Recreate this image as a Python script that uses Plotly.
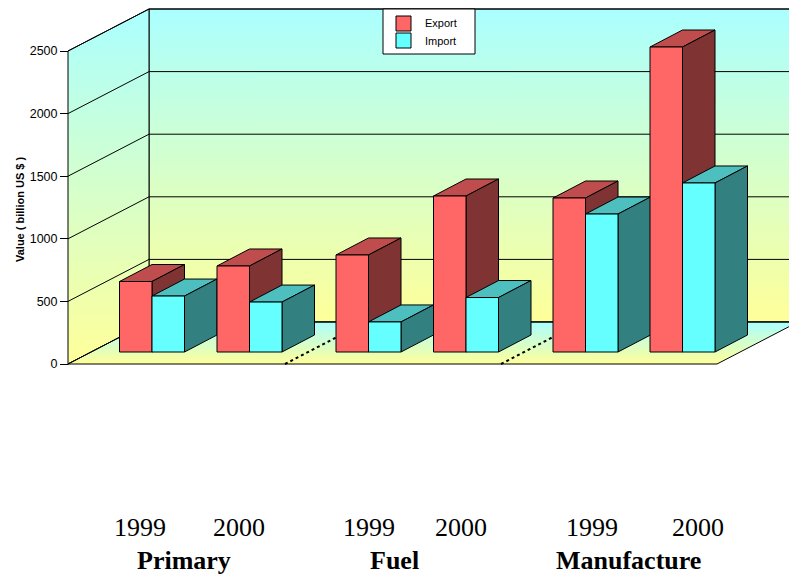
import plotly.graph_objects as go

# ---- data ----
groups = ["Primary", "Fuel", "Manufacture"]
years = ["1999", "2000"]
export_values = [563, 687, 775, 1246, 1230, 2436]
import_values = [447, 399, 240, 435, 1102, 1350]
y_ticks = [0, 500, 1000, 1500, 2000, 2500]
series_names = ["Export", "Import"]

# ---- layout constants ----
W, H = 789, 574
K = 313 / 2500            # px per value unit
FRONT_X0, FRONT_X1 = 68, 717
WALL_DX, WALL_DY = 81, 42 / K
BAR_W = 32.5
BAR_DX, BAR_DY = 32.5, 17 / K
BAR_BASE = 12 / K
BAR_LEFTS = [119.5, 217, 336, 433.5, 553, 650]
YEAR_LABEL_X = [140, 238.5, 368.7, 461, 592, 698.2]
GROUP_LABEL_X = [184.2, 394.2, 628]
DIVIDER_X = [285, 501]
LEGEND_BOX = (383, 475, 9, 54)
LEGEND_SWATCH_X = 403.5
LEGEND_TEXT_X = 423
LEGEND_ROW_Y = [23.5, 40.5]

C_TOPC = "#aaffff"
C_BOTC = "#ffff99"
SCALE = [[0, C_BOTC], [1, C_TOPC]]
LINE = dict(color="black", width=1)
RED = ("#ff6666", "#bf4d4d", "#7f3333")
CYAN = ("#66ffff", "#4dbfbf", "#338080")

fig = go.Figure()


def poly(xs, ys, fill=None, grad=None, line=LINE):
    kw = dict(x=list(xs) + [xs[0]], y=list(ys) + [ys[0]], mode="lines", fill="toself",
              line=line, hoverinfo="skip", showlegend=False)
    if grad is not None:
        kw["fillgradient"] = dict(type="vertical", colorscale=SCALE, start=grad[0], stop=grad[1])
    else:
        kw["fillcolor"] = fill
    fig.add_trace(go.Scatter(**kw))


def seg(xs, ys, line=LINE):
    fig.add_trace(go.Scatter(x=xs, y=ys, mode="lines", line=line, hoverinfo="skip", showlegend=False))


top = max(y_ticks)
# back wall, side wall, floor
poly([FRONT_X0 + WALL_DX, FRONT_X1 + WALL_DX, FRONT_X1 + WALL_DX, FRONT_X0 + WALL_DX],
     [WALL_DY, WALL_DY, top + WALL_DY, top + WALL_DY], grad=(WALL_DY, top + WALL_DY))
poly([FRONT_X0, FRONT_X0 + WALL_DX, FRONT_X0 + WALL_DX, FRONT_X0],
     [0, WALL_DY, top + WALL_DY, top], grad=(0, top + WALL_DY))
poly([FRONT_X0, FRONT_X1, FRONT_X1 + WALL_DX, FRONT_X0 + WALL_DX],
     [0, 0, WALL_DY, WALL_DY], grad=(0, WALL_DY))

# grid lines
for t in y_ticks:
    seg([FRONT_X0, FRONT_X0 + WALL_DX, FRONT_X1 + WALL_DX], [t, t + WALL_DY, t + WALL_DY])

# dotted group dividers on the floor
for dx in DIVIDER_X:
    seg([dx, dx + WALL_DX], [0, WALL_DY], line=dict(color="black", width=2, dash="3px,3px"))


def bar(x0, value, colors):
    x1 = x0 + BAR_W
    b, t = BAR_BASE, BAR_BASE + value
    poly([x0, x1, x1 + BAR_DX, x0 + BAR_DX], [t, t, t + BAR_DY, t + BAR_DY], fill=colors[1])
    poly([x1, x1 + BAR_DX, x1 + BAR_DX, x1], [b, b + BAR_DY, t + BAR_DY, t], fill=colors[2])
    poly([x0, x1, x1, x0], [b, b, t, t], fill=colors[0])


for left, ev, iv in zip(BAR_LEFTS, export_values, import_values):
    bar(left, ev, RED)
    bar(left + BAR_W, iv, CYAN)


def py(p):
    return 1 - p / H


def vy(p):
    return (364 - p) / K


# legend box, swatches and names
x0, x1, y0, y1 = LEGEND_BOX
poly([x0, x1, x1, x0], [vy(y0), vy(y0), vy(y1), vy(y1)], fill="white")
for name, colors, row in zip(series_names, (RED, CYAN), LEGEND_ROW_Y):
    fig.add_trace(go.Scatter(x=[LEGEND_SWATCH_X], y=[vy(row)], mode="markers", name=name,
                             hoverinfo="skip", showlegend=False,
                             marker=dict(symbol="square", size=15, color=colors[0],
                                         line=dict(color="black", width=1))))
    fig.add_annotation(x=LEGEND_TEXT_X, y=py(row), xref="x", yref="paper", text=name, showarrow=False,
                       xanchor="left", yanchor="middle",
                       font=dict(family="Liberation Sans", size=11, color="black"))

for i, xp in enumerate(YEAR_LABEL_X):
    fig.add_annotation(x=xp, y=py(527), xref="x", yref="paper", text=years[i % 2], showarrow=False,
                       yanchor="middle",
                       font=dict(family="Liberation Serif", size=26, color="black"))
for g, xp in zip(groups, GROUP_LABEL_X):
    fig.add_annotation(x=xp, y=py(560), xref="x", yref="paper", text="<b>%s</b>" % g, showarrow=False,
                       yanchor="middle",
                       font=dict(family="Liberation Serif", size=26, color="black"))
fig.add_annotation(x=20, y=py(210), xref="x", yref="paper", text="<b>Value ( billion US $ )</b>",
                   textangle=-90, showarrow=False, yanchor="middle",
                   font=dict(family="Liberation Sans", size=11, color="black"))

fig.update_layout(
    width=W, height=H, margin=dict(l=0, r=0, t=0, b=0), autosize=False,
    paper_bgcolor="white", plot_bgcolor="white", showlegend=False,
    xaxis=dict(range=[0, W], visible=False, fixedrange=True),
    yaxis=dict(range=[(364 - H) / K, 364 / K], anchor="free", position=FRONT_X0 / W,
               tickvals=y_ticks, ticks="outside", ticklen=8, tickcolor="black", tickwidth=1,
               showgrid=False, zeroline=False, showline=False, fixedrange=True,
               tickfont=dict(family="Liberation Sans", size=12.5, color="black")),
)

fig.write_html("out.html", config={"displayModeBar": False},
               post_script='document.body.style.margin="0";')
